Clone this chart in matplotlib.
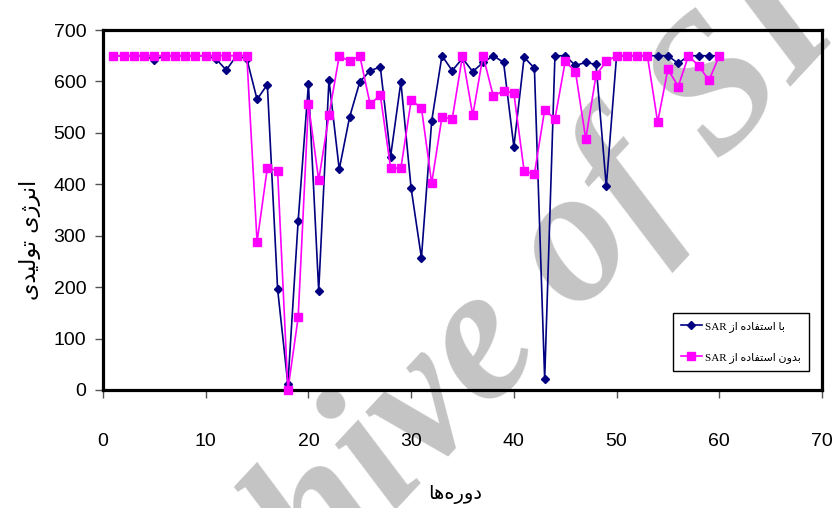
import matplotlib
matplotlib.use("Agg")
import matplotlib.pyplot as plt
from matplotlib.lines import Line2D

# periods and produced energy, with and without SAR
periods = list(range(1, 61))
with_sar = [650, 650, 650, 650, 642, 650, 650, 650, 650, 650,
            644, 622, 650, 644, 565, 594, 196, 11, 329, 595,
            193, 603, 429, 530, 599, 621, 628, 454, 599, 392,
            257, 523, 650, 621, 645, 619, 637, 650, 637, 473,
            647, 626, 21, 650, 650, 631, 637, 633, 396, 650,
            650, 650, 650, 650, 650, 635, 650, 650, 650, 650]
without_sar = [650, 650, 650, 650, 650, 650, 650, 650, 650, 650,
               650, 650, 650, 650, 288, 432, 426, 0, 141, 556,
               408, 534, 650, 639, 650, 556, 573, 432, 431, 563,
               549, 402, 531, 527, 650, 534, 650, 571, 582, 577,
               426, 420, 545, 527, 639, 619, 488, 612, 639, 650,
               650, 650, 650, 521, 624, 590, 650, 630, 602, 650]
xticks = [0, 10, 20, 30, 40, 50, 60, 70]
yticks = [0, 100, 200, 300, 400, 500, 600, 700]

label_with = "با استفاده از SAR"
label_without = "بدون استفاده از SAR"
ylabel = "انرژی تولیدی"
xlabel = "دوره\u200cها"

# matplotlib has no arabic shaping, so pick presentation forms by hand
FORMS = {
    'ا': ('\uFE8D', '\uFE8E', None, None),
    'ب': ('\uFE8F', '\uFE90', '\uFE91', '\uFE92'),
    'ت': ('\uFE95', '\uFE96', '\uFE97', '\uFE98'),
    'د': ('\uFEA9', '\uFEAA', None, None),
    'ر': ('\uFEAD', '\uFEAE', None, None),
    'ز': ('\uFEAF', '\uFEB0', None, None),
    'ژ': ('\u0698', '\uFB8B', None, None),
    'س': ('\uFEB1', '\uFEB2', '\uFEB3', '\uFEB4'),
    'ف': ('\uFED1', '\uFED2', '\uFED3', '\uFED4'),
    'ل': ('\uFEDD', '\uFEDE', '\uFEDF', '\uFEE0'),
    'ن': ('\uFEE5', '\uFEE6', '\uFEE7', '\uFEE8'),
    'ه': ('\uFEE9', '\uFEEA', '\uFEEB', '\uFEEC'),
    'و': ('\uFEED', '\uFEEE', None, None),
    'ی': ('\uFEEF', '\uFEF0', '\uFEF3', '\uFEF4'),
}


def shape_word(word):
    out = []
    n = len(word)
    for i, ch in enumerate(word):
        if ch not in FORMS:
            continue
        prev = word[i - 1] if i > 0 else None
        nxt = word[i + 1] if i < n - 1 else None
        jp = prev in FORMS and FORMS[prev][2] is not None
        jn = FORMS[ch][2] is not None and nxt in FORMS
        iso, fin, ini, med = FORMS[ch]
        if jp and jn:
            out.append(med)
        elif jp:
            out.append(fin)
        elif jn:
            out.append(ini)
        else:
            out.append(iso)
    return "".join(reversed(out))


def rtl(text):
    words = []
    for w in text.split(" "):
        if any(c in FORMS for c in w):
            words.append(shape_word(w))
        else:
            words.append(w)
    return " ".join(reversed(words))


fig = plt.figure(figsize=(8.36, 5.08), dpi=100)
fig.patch.set_facecolor("white")
ax = fig.add_axes([103 / 836, 1 - 390 / 508, 719 / 836, 360 / 508])
ax.patch.set_alpha(0)

ax.plot(periods, with_sar, color="#000080", marker="D", markersize=4.5,
        linewidth=1.2, clip_on=False, zorder=4)
ax.plot(periods, without_sar, color="#FF00FF", marker="s", markersize=5.5,
        linewidth=1.2, clip_on=False, zorder=5)

ax.set_xlim(0, 70)
ax.set_ylim(0, 700)
ax.set_xticks(xticks)
ax.set_yticks(yticks)
ax.tick_params(axis="x", direction="out", length=6, width=1, color="#555555",
               pad=25, labelsize=14)
ax.tick_params(axis="y", direction="out", length=6, width=1, color="#555555",
               pad=6, labelsize=14)
for lab in ax.get_xticklabels() + ax.get_yticklabels():
    lab.set_fontfamily("Liberation Sans")
for sp in ax.spines.values():
    sp.set_linewidth(2.3)
    sp.set_color("black")
    sp.set_zorder(3)

fig.text(30 / 836, 1 - 240 / 508, rtl(ylabel), rotation=90, ha="center",
         va="center", fontsize=16, family="DejaVu Sans")
fig.text(455 / 836, 1 - 494 / 508, rtl(xlabel), ha="center", va="center",
         fontsize=14, family="DejaVu Sans")

handles = [
    Line2D([], [], color="#000080", marker="D", markersize=4.5, linewidth=1.2),
    Line2D([], [], color="#FF00FF", marker="s", markersize=5.5, linewidth=1.2),
]
leg = ax.legend(handles, [rtl(label_with), rtl(label_without)],
                loc="upper right", bbox_to_anchor=(809 / 836, 1 - 313 / 508),
                bbox_transform=fig.transFigure, borderaxespad=0,
                fancybox=False, framealpha=1, edgecolor="black",
                prop={"family": ["Liberation Serif", "DejaVu Sans"], "size": 8},
                handlelength=1.9, labelspacing=1.8, borderpad=0.7,
                handletextpad=0.3)
leg.get_frame().set_linewidth(1.0)
leg.set_zorder(6)

# site watermark sits behind the plot
fig.text(500 / 836, 1 - 340 / 508, "Archive of SID", rotation=47,
         ha="center", va="center", fontsize=138, color="#c4c4c4",
         family="Liberation Serif", style="italic", weight="bold",
         rotation_mode="anchor", zorder=-1)

fig.savefig("out.png", dpi=100)
